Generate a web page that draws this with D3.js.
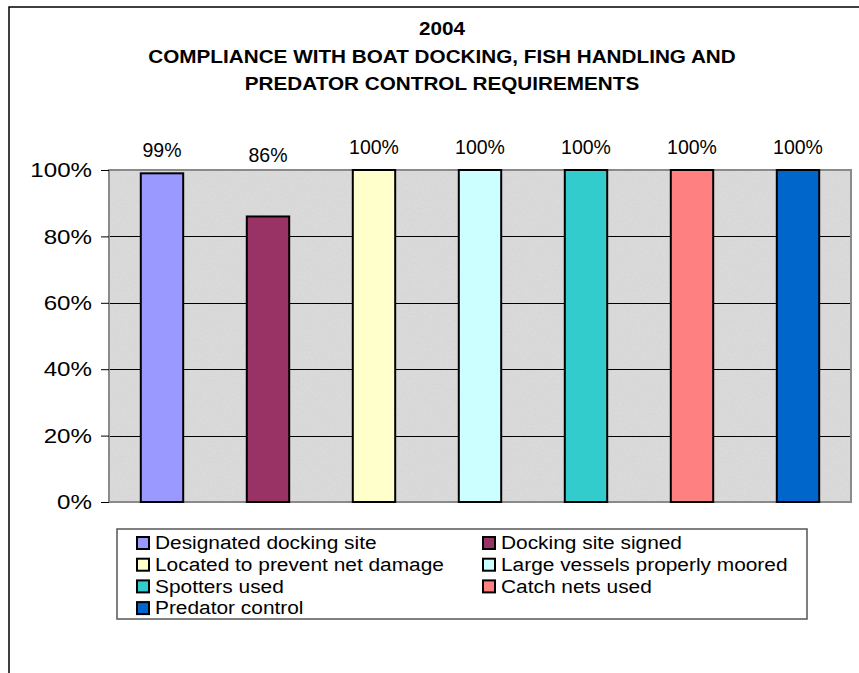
<!DOCTYPE html>
<html>
<head>
<meta charset="utf-8">
<script src="https://cdn.jsdelivr.net/npm/d3@7"></script>
<style>
  html, body { margin: 0; padding: 0; background: #ffffff; }
  svg { display: block; font-family: "Liberation Sans", Arial, sans-serif; }
</style>
</head>
<body>
<svg id="chart" width="859" height="673"></svg>
<script>
// Compliance categories, their 2004 rates and colours
const categories = [
  "Designated docking site",
  "Docking site signed",
  "Located to prevent net damage",
  "Large vessels properly moored",
  "Spotters used",
  "Catch nets used",
  "Predator control"
];
const values = [0.99, 0.86, 1.00, 1.00, 1.00, 1.00, 1.00];
const colors = ["#9999FF", "#993366", "#FFFFCC", "#CCFFFF", "#33CCCC", "#FF8080", "#0066CC"];
const yTicks = [0, 0.2, 0.4, 0.6, 0.8, 1.0];
const titleLines = [
  "2004",
  "COMPLIANCE WITH BOAT DOCKING, FISH HANDLING AND",
  "PREDATOR CONTROL REQUIREMENTS"
];

const data = categories.map((c, i) => ({ name: c, value: values[i], color: colors[i] }));

const svg = d3.select("#chart");
const plot = { left: 109, right: 851, top: 170, bottom: 502 };

// The chart's type is set slightly wide, so text is stretched horizontally
const wide = (s, px, py) => `translate(${px},${py}) scale(${s},1)`;

// Outer chart frame (only left and top edges fall inside the page)
svg.append("path")
  .attr("d", "M9,673.5 L9,7 L859,7")
  .attr("fill", "none")
  .attr("stroke", "#000")
  .attr("stroke-width", 1.5);

// Title
const titleG = svg.append("g")
  .attr("font-weight", "bold")
  .attr("font-size", 19)
  .attr("text-anchor", "middle")
  .attr("fill", "#000");
titleLines.forEach((t, i) => {
  titleG.append("text")
    .attr("transform", wide(1.09, 442, 35 + i * 27.5))
    .text(t);
});

// Scales
const x = d3.scaleBand()
  .domain(categories)
  .range([plot.left, plot.right])
  .paddingInner(0.6)
  .paddingOuter(0.3);

const y = d3.scaleLinear()
  .domain([0, 1])
  .range([plot.bottom, plot.top]);

// Granite-like plot background
const defs = svg.append("defs");
const noise = defs.append("filter")
  .attr("id", "grain")
  .attr("x", 0).attr("y", 0).attr("width", 1).attr("height", 1);
noise.append("feTurbulence")
  .attr("type", "fractalNoise")
  .attr("baseFrequency", 0.5)
  .attr("numOctaves", 2)
  .attr("seed", 7)
  .attr("result", "n");
noise.append("feColorMatrix")
  .attr("type", "matrix")
  .attr("values", "0 0 0 0 0.6  0 0 0 0 0.6  0 0 0 0 0.6  -1.8 0 0 0 1.0")
  .attr("result", "spots");
noise.append("feComposite")
  .attr("in", "spots")
  .attr("in2", "SourceGraphic")
  .attr("operator", "in");

svg.append("rect")
  .attr("x", plot.left).attr("y", plot.top)
  .attr("width", plot.right - plot.left).attr("height", plot.bottom - plot.top)
  .attr("fill", "#dadada");
svg.append("rect")
  .attr("x", plot.left).attr("y", plot.top)
  .attr("width", plot.right - plot.left).attr("height", plot.bottom - plot.top)
  .attr("fill", "#dadada")
  .attr("opacity", 0.5)
  .attr("filter", "url(#grain)");

// Gridlines
svg.append("g")
  .selectAll("line")
  .data(yTicks.filter(t => t > 0 && t < 1))
  .join("line")
  .attr("x1", plot.left).attr("x2", plot.right)
  .attr("y1", d => Math.round(y(d)) + 0.5).attr("y2", d => Math.round(y(d)) + 0.5)
  .attr("stroke", "#000")
  .attr("stroke-width", 1);

// Plot area border
svg.append("rect")
  .attr("x", plot.left).attr("y", plot.top)
  .attr("width", plot.right - plot.left).attr("height", plot.bottom - plot.top)
  .attr("fill", "none")
  .attr("stroke", "#8a8a8a")
  .attr("stroke-width", 2);

// Y axis
const yAxis = d3.axisLeft(y)
  .tickValues(yTicks)
  .tickFormat(d3.format(".0%"))
  .tickSize(8)
  .tickPadding(10);
const yg = svg.append("g")
  .attr("transform", `translate(${plot.left},0)`)
  .call(yAxis);
yg.select(".domain").remove();
yg.selectAll(".tick line").attr("stroke", "#000");
yg.selectAll(".tick text")
  .attr("font-family", "'Liberation Sans', Arial, sans-serif")
  .attr("font-size", 21)
  .attr("fill", "#000")
  .attr("x", 0)
  .attr("transform", wide(1.15, -17, 0));

// Bars
svg.append("g")
  .selectAll("rect")
  .data(data)
  .join("rect")
  .attr("x", d => x(d.name))
  .attr("y", d => y(d.value))
  .attr("width", x.bandwidth())
  .attr("height", d => y(0) - y(d.value))
  .attr("fill", d => d.color)
  .attr("stroke", "#000")
  .attr("stroke-width", 2);

// Value labels: above the bar, kept close to the top of the plot
svg.append("g")
  .attr("font-size", 19.5)
  .attr("text-anchor", "middle")
  .attr("fill", "#000")
  .selectAll("text")
  .data(data)
  .join("text")
  .attr("x", d => x(d.name) + x.bandwidth() / 2)
  .attr("y", d => Math.min(y(d.value) - 16, y(1) - 8))
  .text(d => d3.format(".0%")(d.value));

// Legend
const legend = { left: 117, top: 529, width: 690, height: 90 };
svg.append("rect")
  .attr("x", legend.left).attr("y", legend.top)
  .attr("width", legend.width).attr("height", legend.height)
  .attr("fill", "#fff")
  .attr("stroke", "#555")
  .attr("stroke-width", 1.5);

const colX = [136, 482];
const rowY0 = 543, rowStep = 21.7;
const items = svg.append("g")
  .selectAll("g")
  .data(data)
  .join("g")
  .attr("transform", (d, i) => `translate(${colX[i % 2]},${rowY0 + Math.floor(i / 2) * rowStep})`);
items.append("rect")
  .attr("x", 1).attr("y", -6)
  .attr("width", 12).attr("height", 12)
  .attr("fill", d => d.color)
  .attr("stroke", "#000")
  .attr("stroke-width", 2);
items.append("text")
  .attr("transform", wide(1.16, 19, 0))
  .attr("dy", "0.35em")
  .attr("font-size", 18)
  .attr("fill", "#000")
  .text(d => d.name);
</script>
</body>
</html>
